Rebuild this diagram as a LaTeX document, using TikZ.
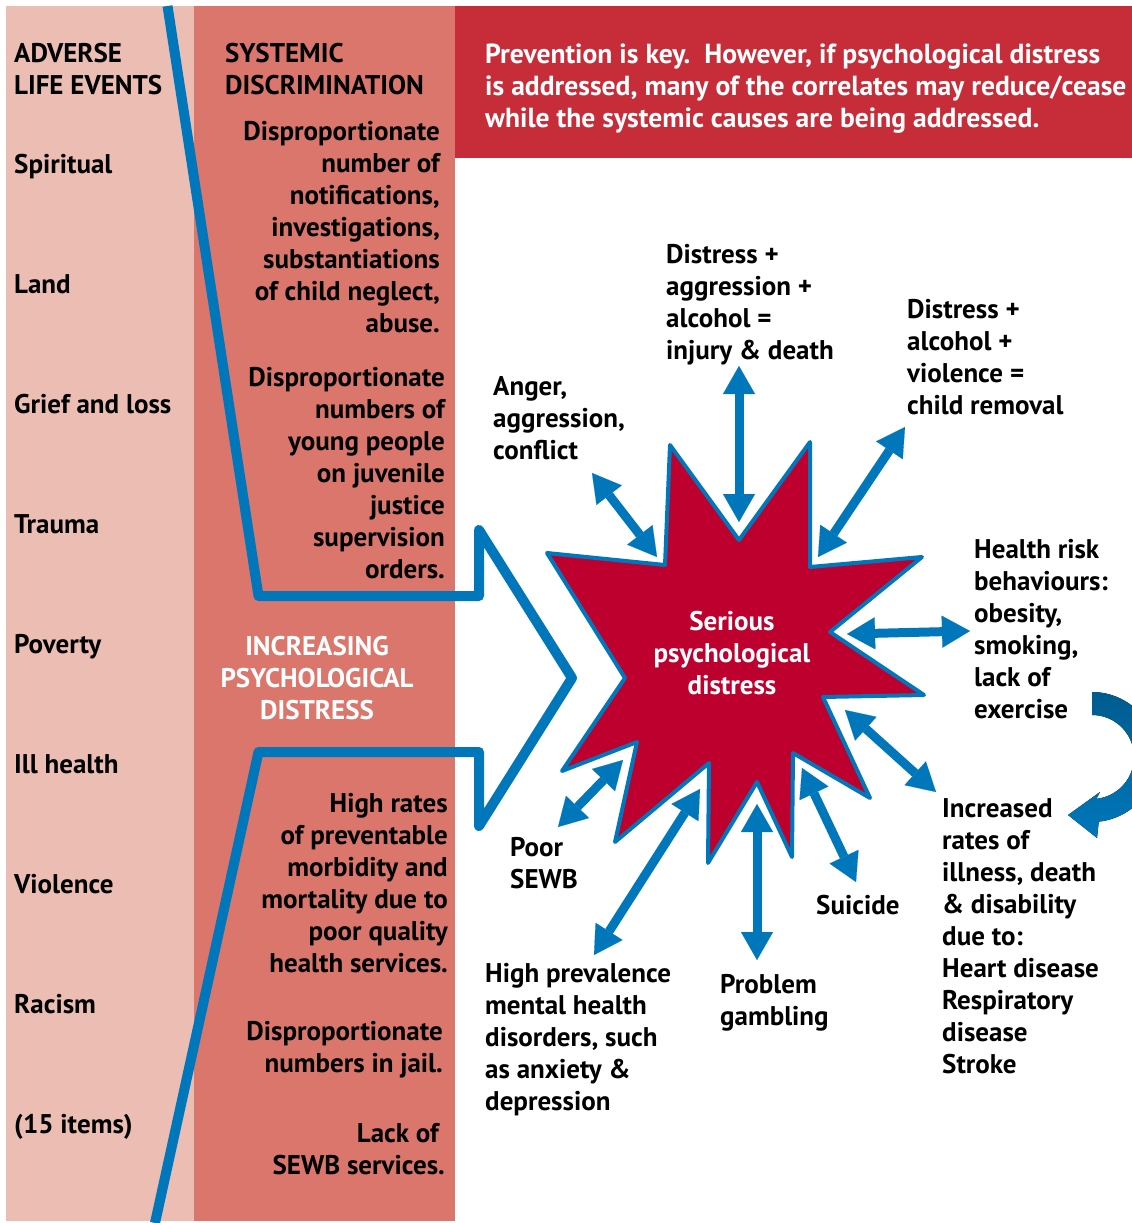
\documentclass[tikz,border=0pt]{standalone}
\usepackage{fontspec}
\setmainfont{PT Sans}
\usetikzlibrary{arrows.meta}
\definecolor{pinkA}{RGB}{236,189,178}
\definecolor{salmon}{RGB}{218,118,108}
\definecolor{redbox}{RGB}{198,45,57}
\definecolor{starred}{RGB}{190,0,46}
\definecolor{bl}{RGB}{0,119,187}
\definecolor{bldark}{RGB}{0,92,142}
\begin{document}
\begin{tikzpicture}[x=1pt,y=-1pt,
  txt/.style={inner sep=0pt, font=\fontsize{27}{32}\selectfont\bfseries},
  tl/.style={txt, anchor=north west, align=left, yshift=22.4pt},
  tr/.style={txt, anchor=north east, align=right, yshift=22.4pt},
  tc/.style={txt, anchor=north, align=center, yshift=22.4pt, text=white},
  dbl/.style={draw=bl, line width=9pt, {Triangle[length=28pt,width=32pt,line width=0.1pt]}-{Triangle[length=28pt,width=32pt,line width=0.1pt]}},
]
\useasboundingbox (0,0) rectangle (1132,1223);
\clip (0,0) rectangle (1132,1223);
% panels
\fill[pinkA] (6,6) rectangle (194,1221);
\fill[salmon] (194,6) rectangle (455,1221);
\fill[redbox] (455,6) rectangle (1132,158);
% chevron line
\draw[bl, line width=10pt, line join=round] (167.5,6) -- (258.5,596) -- (479,596) -- (479,530) -- (572,678) -- (479,826) -- (479,752) -- (258.5,752) -- (155,1223);
% star
\filldraw[fill=starred, draw=bl, line width=4pt, line join=round]
 (670,445) -- (739,540) -- (810,442) -- (810,567) -- (922,557) -- (830,632) -- (924,695) -- (823,697) -- (870,798) -- (793,753) -- (792,857) -- (757,782) -- (708,863) -- (709,763) -- (615,842) -- (637,742) -- (562,771) -- (625,678) -- (547,553) -- (665,565) -- cycle;
\node[tc] (star) at (732,630) {\strut Serious\\psychological\\distress};
% arrows
\coordinate (a1s) at (592,473); \coordinate (a1e) at (657,557);
\coordinate (a2s) at (739,366); \coordinate (a2e) at (739,522);
\coordinate (a3s) at (905,427); \coordinate (a3e) at (818,557);
\coordinate (a4s) at (970,631); \coordinate (a4e) at (847,634);
\coordinate (a5s) at (845,710); \coordinate (a5e) at (936,792);
\coordinate (a6s) at (802,768); \coordinate (a6e) at (856,882);
\coordinate (a7s) at (757,804); \coordinate (a7e) at (757,960);
\coordinate (a8s) at (700,789); \coordinate (a8e) at (594,955);
\coordinate (a9s) at (623,760); \coordinate (a9e) at (558,827);
\foreach \i in {1,...,9} { \draw[dbl] (a\i s) -- (a\i e); }
% curved arrow
\fill[top color=bldark, bottom color=bl]
 plot[domain=-90:84, samples=60] ({1092+65*cos(\x)},{757+65*sin(\x)})
 -- (1097,838) -- (1068,815) -- (1100,792)
 -- plot[domain=84:-90, samples=60] ({1092+42*cos(\x)},{757+42*sin(\x)}) -- cycle;
% left column
\node[tl] (adv) at (14,62) {\strut ADVERSE\\LIFE EVENTS};
\node[tl] (l1) at (14,173) {\strut Spiritual};
\node[tl] (l2) at (14,293) {\strut Land};
\node[tl] (l3) at (14,413) {\strut Grief and loss};
\node[tl] (l4) at (14,533) {\strut Trauma};
\node[tl] (l5) at (14,653) {\strut Poverty};
\node[tl] (l6) at (14,773) {\strut Ill health};
\node[tl] (l7) at (14,893) {\strut Violence};
\node[tl] (l8) at (14,1013) {\strut Racism};
\node[tl] (l9) at (14,1133) {\strut (15 items)};
% salmon column
\node[tl] (sys) at (225,62) {\strut SYSTEMIC\\DISCRIMINATION};
\node[tr] (d1) at (440,140) {\strut Disproportionate\\number of\\notifications,\\investigations,\\substantiations\\of child neglect,\\abuse.};
\node[tr] (d2) at (445,386) {\strut Disproportionate\\numbers of\\young people\\on juvenile\\justice\\supervision\\orders.};
\node[tc] (inc) at (317,655) {\strut INCREASING\\PSYCHOLOGICAL\\DISTRESS};
\node[tr] (d3) at (448,812) {\strut High rates\\of preventable\\morbidity and\\mortality due to\\poor quality\\health services.};
\node[tr] (d4) at (443,1040) {\strut Disproportionate\\numbers in jail.};
\node[tr] (d5) at (445,1142) {\strut Lack of\kern6pt\\SEWB services.};
% red box
\node[tl, text=white, font=\fontsize{27.6}{32}\selectfont\bfseries] (prev) at (485,63) {\strut Prevention is key.\ \ However, if psychological distress\\is addressed, many of the correlates may reduce/cease\\while the systemic causes are being addressed.};
% right texts
\node[tl] (t1) at (666,263) {\strut Distress +\\aggression +\\alcohol =\\injury \& death};
\node[tl] (t2) at (907,318) {\strut Distress +\\alcohol +\\violence =\\child removal};
\node[tl] (t3) at (493,395) {\strut Anger,\\aggression,\\conflict};
\node[tl] (t4) at (974,558) {\strut Health risk\\behaviours:\\obesity,\\smoking,\\lack of\\exercise};
\node[tl] (t5) at (942,817) {\strut Increased\\rates of\\illness, death\\\& disability\\due to:\\Heart disease\\Respiratory\\disease\\Stroke};
\node[tl] (t6) at (510,856) {\strut Poor\\SEWB};
\node[tl] (t7) at (816,914) {\strut Suicide};
\node[tl] (t8) at (485,982) {\strut High prevalence\\mental health\\disorders, such\\as anxiety \&\\depression};
\node[tl] (t9) at (720,993) {\strut Problem\\gambling};
\end{tikzpicture}
\end{document}
